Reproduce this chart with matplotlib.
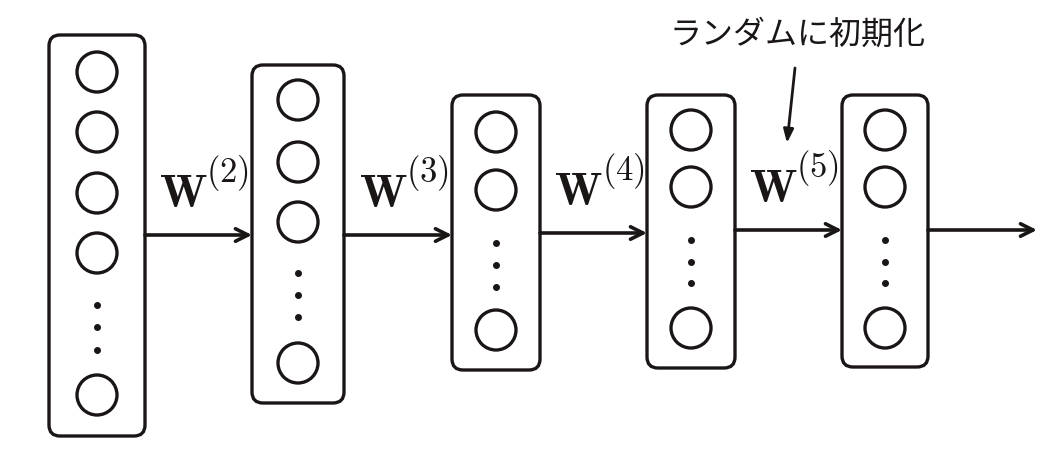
import matplotlib
matplotlib.use("Agg")
import matplotlib.pyplot as plt
from matplotlib.patches import FancyBboxPatch, Circle

plt.rcParams["mathtext.fontset"] = "cm"

# --- layer layout (pixel space, y grows downward) ---
layer_x = [97, 298, 496, 691, 885]
layer_w = [96, 92, 88, 88, 86]
layer_top = [35, 65, 95, 95, 95]
layer_bottom = [436, 403, 370, 368, 367]
node_y = [[72, 132, 193, 253], [100, 162, 222], [132, 190], [130, 187], [130, 187]]
dot_y = [[305, 327, 350], [273, 295, 317], [243, 265, 287], [240, 262, 283], [240, 262, 283]]
last_y = [395, 363, 330, 328, 328]

arrow_y = [235, 235, 233, 230, 230]
weight_index = ["2", "3", "4", "5"]
out_end = 1037

note_text = "ランダムに初期化"
note_xy = (797, 35)
note_arrow = ((795, 68), (787, 143))

fig = plt.figure(figsize=(10.62, 4.65), dpi=100)
ax = fig.add_axes([0, 0, 1, 1])
ax.set_xlim(0, 1062)
ax.set_ylim(465, 0)
ax.axis("off")

ink = "#1a1616"
lw = 2.4
r = 20
for i, cx in enumerate(layer_x):
    w = layer_w[i]
    box = FancyBboxPatch((cx - w / 2 + 11, layer_top[i] + 11), w - 22,
                         layer_bottom[i] - layer_top[i] - 22,
                         boxstyle="round,pad=11", fc="none", ec=ink, lw=lw)
    ax.add_patch(box)
    for y in node_y[i] + [last_y[i]]:
        ax.add_patch(Circle((cx, y), r, fc="none", ec=ink, lw=lw))
    ax.plot([cx] * 3, dot_y[i], "o", color=ink, ms=4)

# arrows between layers, with W^(k) above them
for i in range(len(layer_x)):
    x0 = layer_x[i] + layer_w[i] / 2
    x1 = layer_x[i + 1] - layer_w[i + 1] / 2 if i + 1 < len(layer_x) else out_end
    ax.annotate("", xy=(x1, arrow_y[i]), xytext=(x0, arrow_y[i]),
                arrowprops=dict(arrowstyle="->,head_length=0.9,head_width=0.45",
                                lw=2.6, color=ink, shrinkA=0, shrinkB=0))
    if i < len(weight_index):
        mid = (x0 + x1) / 2
        base = arrow_y[i] - 28
        ax.text(mid + 9, base, r"$\mathbf{W}$", ha="right", va="baseline",
                fontsize=33, color=ink)
        ax.text(mid + 8, base - 25, "$(" + weight_index[i] + ")$", ha="left",
                va="baseline", fontsize=25, color=ink)

ax.text(note_xy[0], note_xy[1], note_text, ha="center", va="center", fontsize=23,
        family=["Noto Sans CJK JP", "DejaVu Sans"], color=ink)
ax.annotate("", xy=note_arrow[1], xytext=note_arrow[0],
            arrowprops=dict(arrowstyle="-|>,head_length=0.8,head_width=0.3",
                            lw=2, color=ink, shrinkA=0, shrinkB=0))

fig.savefig("out.png", dpi=100, facecolor="white")
